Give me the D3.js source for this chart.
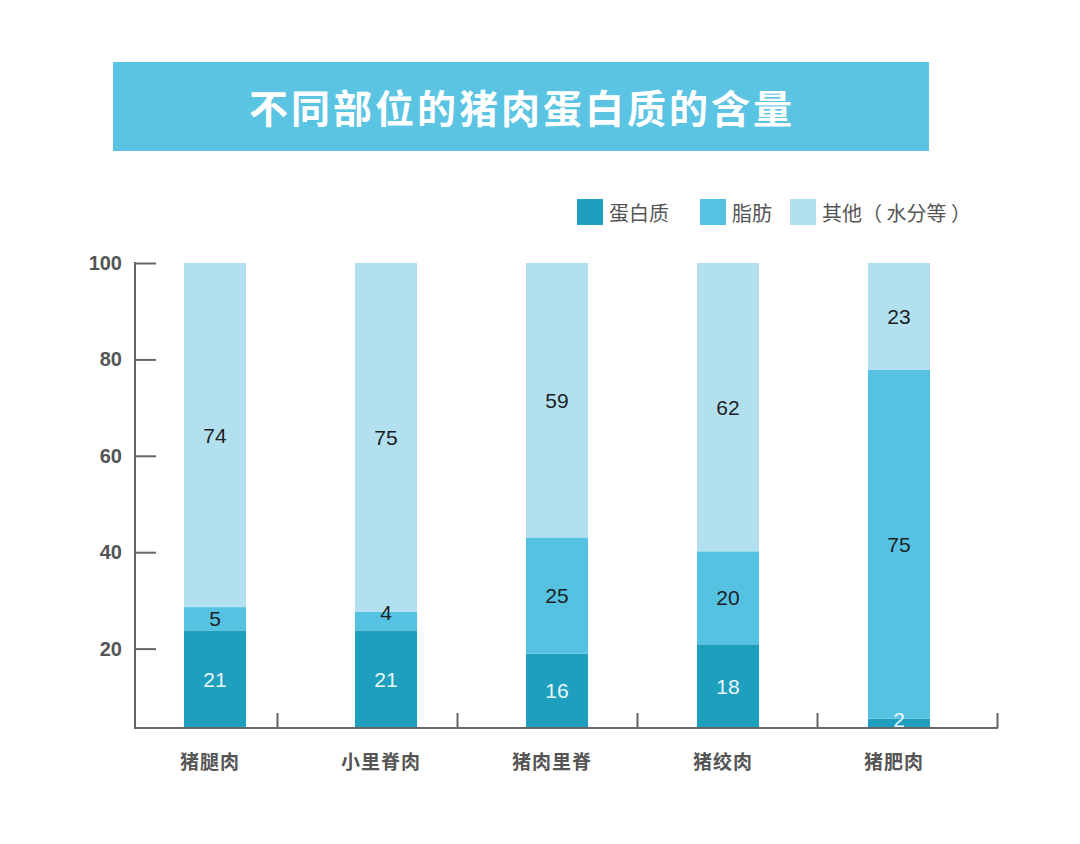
<!DOCTYPE html>
<html>
<head>
<meta charset="utf-8">
<script src="https://cdn.jsdelivr.net/npm/d3@7/dist/d3.min.js"></script>
<style>
  html, body { margin: 0; padding: 0; background: #ffffff; }
  svg { display: block; }
</style>
</head>
<body>
<svg id="chart" width="1080" height="844"></svg>
<script>
const title = "不同部位的猪肉蛋白质的含量";
const categories = ["猪腿肉", "小里脊肉", "猪肉里脊", "猪绞肉", "猪肥肉"];
const seriesNames = ["蛋白质", "脂肪", "其他（ 水分等 ）"];
const protein = [21, 21, 16, 18, 2];
const fat = [5, 4, 25, 20, 75];
const other = [74, 75, 59, 62, 23];
const yTickValues = [20, 40, 60, 80, 100];

const colors = ["#1f9fbe", "#56c2e1", "#b3e0ef"];
const labelColors = ["#e8f7fc", "#1e2226", "#1e2226"];

const svg = d3.select("#chart");
const CJK = "'Noto Sans CJK SC', 'Noto Sans', sans-serif";
const NUM = "'Liberation Sans', Arial, sans-serif";

// Title banner
svg.append("rect").attr("x", 113).attr("y", 62).attr("width", 816).attr("height", 89)
  .attr("fill", "#5bc4e2");
svg.append("text").attr("x", 522).attr("y", 106)
  .attr("text-anchor", "middle").attr("dominant-baseline", "central")
  .attr("fill", "#ffffff").attr("font-family", CJK).attr("font-weight", 700)
  .attr("font-size", 39).attr("letter-spacing", 3)
  .text(title);

// Plot geometry
const plotLeft = 135, plotRight = 997, plotTop = 263, plotBottom = 728;

const x = d3.scaleBand().domain(categories).range([129.5, 984.5])
  .paddingInner(0.637).paddingOuter(0.3185);
const xTick = d3.scalePoint().domain(categories).range([277, 997]);
const y = d3.scaleLinear().domain([0, 100]).range([plotBottom, plotTop]);
const yTick = d3.scaleLinear().domain([0, 100]).range([plotBottom + 17, plotTop]);

// Data table
const table = categories.map((c, i) => ({ cat: c, v: [protein[i], fat[i], other[i]] }));
const keys = [0, 1, 2];
const stack = d3.stack().keys(keys).value((d, k) => d.v[k]);
const layers = stack(table);

// Bars
const g = svg.append("g");
layers.forEach((layer, k) => {
  g.selectAll(null).data(layer).enter().append("rect")
    .attr("x", d => x(d.data.cat))
    .attr("width", x.bandwidth())
    .attr("y", d => y(d[1]))
    .attr("height", d => y(d[0]) - y(d[1]))
    .attr("fill", colors[k]);
});
// Value labels (small segments: label sits on the segment's top edge)
layers.forEach((layer, k) => {
  g.selectAll(null).data(layer).enter().append("text")
    .attr("x", d => x(d.data.cat) + x.bandwidth() / 2)
    .attr("y", d => {
      const h = y(d[0]) - y(d[1]);
      return h < 20 ? y(d[1]) + 1 : (y(d[0]) + y(d[1])) / 2;
    })
    .attr("text-anchor", "middle").attr("dominant-baseline", "central")
    .attr("font-family", NUM).attr("font-size", 21)
    .attr("fill", labelColors[k])
    .text(d => d.data.v[k]);
});

// Y axis
const axisColor = "#666666";
const yAxis = svg.append("g").attr("transform", `translate(${plotLeft},0)`)
  .call(d3.axisLeft(yTick).tickValues(yTickValues).tickSize(-21).tickPadding(13));
yAxis.select(".domain").remove();
yAxis.selectAll(".tick line").attr("stroke", axisColor).attr("stroke-width", 2);
yAxis.selectAll(".tick text").attr("font-family", NUM).attr("font-weight", 700)
  .attr("font-size", 20).attr("fill", "#555555");
svg.append("line").attr("x1", plotLeft).attr("x2", plotLeft).attr("y1", plotTop - 1).attr("y2", plotBottom + 1)
  .attr("stroke", axisColor).attr("stroke-width", 2);

// X axis
const xAxis = svg.append("g").attr("transform", `translate(0,${plotBottom})`)
  .call(d3.axisBottom(xTick).tickSize(-15).tickFormat(""));
xAxis.select(".domain").remove();
xAxis.selectAll(".tick line").attr("stroke", axisColor).attr("stroke-width", 2);
svg.append("line").attr("x1", plotLeft - 1).attr("x2", plotRight + 1).attr("y1", plotBottom).attr("y2", plotBottom)
  .attr("stroke", axisColor).attr("stroke-width", 2);

// Category labels
svg.selectAll(null).data(categories).enter().append("text")
  .attr("x", d => x(d) + x.bandwidth() / 2 - 5)
  .attr("y", 760)
  .attr("text-anchor", "middle").attr("dominant-baseline", "central")
  .attr("font-family", CJK).attr("font-weight", 700).attr("font-size", 19)
  .attr("letter-spacing", 1).attr("fill", "#555555")
  .text(d => d);

// Legend
const legendX = [577, 700, 790];
const lg = svg.append("g");
seriesNames.forEach((name, k) => {
  lg.append("rect").attr("x", legendX[k]).attr("y", 199).attr("width", 26).attr("height", 26)
    .attr("fill", colors[k]);
  lg.append("text").attr("x", legendX[k] + 32).attr("y", 212)
    .attr("dominant-baseline", "central").attr("xml:space", "preserve")
    .style("white-space", "pre")
    .attr("font-family", CJK).attr("font-size", 20).attr("fill", "#555555")
    .text(name);
});
</script>
</body>
</html>
